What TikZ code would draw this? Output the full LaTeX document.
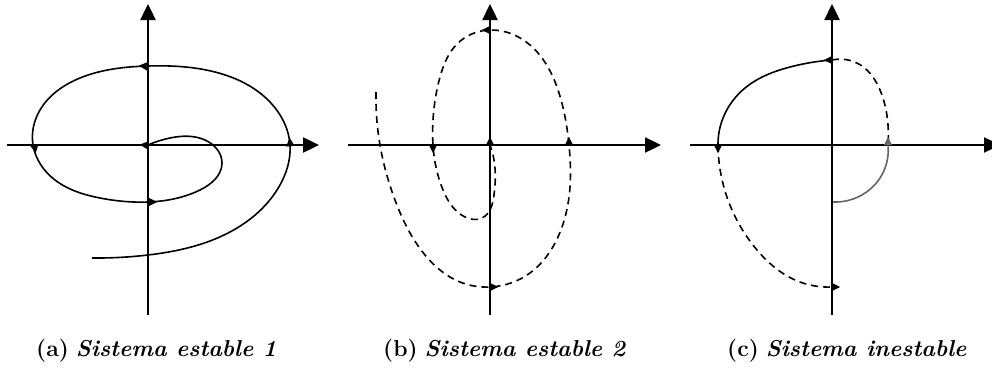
\documentclass[tikz,border=0pt]{standalone}
\usepackage{fontspec}
\usetikzlibrary{arrows.meta,hobby}
\begin{document}
\begin{tikzpicture}[x=1pt,y=-1pt,
  axis/.style={line width=2.4pt,-{Triangle[length=16pt,width=15pt]}},
  traj/.style={line width=1.6pt,use Hobby shortcut},
  dsh/.style={traj,dash pattern=on 7pt off 5pt},
  arrowhd/.pic={\fill (4.2,0)--(-4.2,4.2)--(-4.2,-4.2)--cycle;},
  captext/.style={anchor=base west,inner sep=0pt,font=\fontsize{23}{26}\selectfont}]
\useasboundingbox (0,0) rectangle (992,372);
% ---------- (a)
\draw[axis] (7,145) -- (319,145);
\draw[axis] (148,315) -- (148,4);
\draw[traj] (92,258) .. (148,255) .. (230,232) .. (280,185) .. (290,145) .. (268,100) .. (215,72) .. (148,66) .. (80,78) .. (40,110) .. (33,145) .. (55,180) .. (100,198) .. (148,202) .. (200,190) .. (222,163) .. (205,140) .. (170,138) .. (148,145);
\pic[rotate=175] at (143,66) {arrowhd};
\pic[rotate=-80] at (35,149) {arrowhd};
\pic[rotate=0] at (153,202) {arrowhd};
\pic[rotate=95] at (290,142) {arrowhd};
\pic[rotate=175] at (144,145) {arrowhd};
% ---------- (b)
\draw[axis] (348,145) -- (661,145);
\draw[axis] (490,315) -- (490,4);
\draw[dsh] (376,92) .. (380,145) .. (395,200) .. (425,255) .. (460,282) .. (490,287) .. (530,273) .. (558,237) .. (570,187) .. (569,145) .. (558,90) .. (530,45) .. (490,30) .. (458,43) .. (440,77) .. (433,120) .. (433,145) .. (443,190) .. (465,217) .. (482,218) .. (494,195) .. (494,160) .. (490,145);
\pic[rotate=0] at (494,287) {arrowhd};
\pic[rotate=90] at (569,141) {arrowhd};
\pic[rotate=180] at (486,30) {arrowhd};
\pic[rotate=-90] at (433,149) {arrowhd};
\pic[rotate=90] at (490,141) {arrowhd};
% ---------- (c)
\draw[axis] (690,145) -- (1000,145);
\draw[axis] (832,315) -- (832,4);
\draw[traj] (832,60) .. (790,67) .. (745,88) .. (723,118) .. (718,145);
\draw[dsh] (718,145) .. (728,200) .. (757,250) .. (795,280) .. (832,287);
\draw[dsh] (832,60) .. (862,66) .. (880,90) .. (888,125) .. (888,145);
\draw[traj,black!60] (888,145) .. (880,178) .. (860,196) .. (833,202);
\pic[rotate=180] at (828,60) {arrowhd};
\pic[rotate=-90] at (718,149) {arrowhd};
\pic[rotate=0] at (836,287) {arrowhd};
\pic[rotate=90,black!60] at (888,141) {arrowhd};
% ---------- captions
\node[captext] (ca) at (36,356) {\textbf{(a)} \textbf{\textit{Sistema estable 1}}};
\node[captext] (cb) at (383,356) {\textbf{(b)} \textbf{\textit{Sistema estable 2}}};
\node[captext] (cc) at (727,356) {\textbf{(c)} \textbf{\textit{Sistema inestable}}};
\end{tikzpicture}
\end{document}
